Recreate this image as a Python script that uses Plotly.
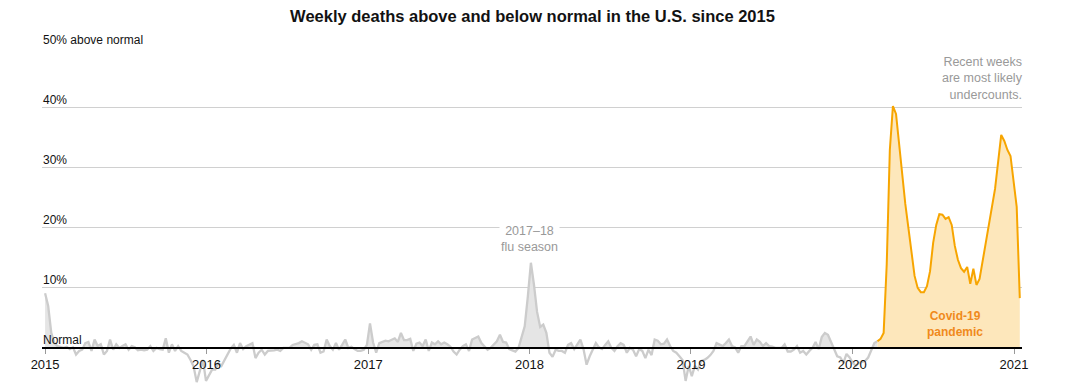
import pandas as pd
import plotly.graph_objects as go

# Weekly excess deaths (% above/below normal), weeks starting 2015-01-01
start_date = "2015-01-01"
gray_values = [
    9.1, 7.0, 2.5, 0.8, 0.3, 0.2, 0.0, 0.2, -0.2, 0.1,
    -1.1, -0.5, -0.3, 0.8, 1.0, -0.5, 1.4, 0.3, 0.6, -1.1,
    -0.5, 1.4, -0.3, 0.6, 0.0, 0.3, 0.6, -0.3, 0.3, 0.1,
    -0.4, -0.3, -0.4, -0.3, 0.3, -0.5, 0.0, -0.2, -0.3, 1.6,
    -0.8, 0.6, -0.5, 0.3, -0.5, -0.8, -1.1, -2.0, -3.1, -5.7,
    -3.6, -2.0, -5.5, -4.5, -3.6, -3.6, -2.5, -3.0, -2.0, -1.2,
    -0.1, 0.5, -0.8, 0.8, -0.2, 0.3, 0.6, 0.8, -1.7, -0.8,
    -0.3, -1.1, -0.5, -0.5, -0.4, -0.3, -0.5, 0.0, 0.0, 0.0,
    0.5, 0.6, 0.8, 1.1, 0.9, 0.6, -0.3, 0.5, 0.6, -0.8,
    -0.6, 1.4, 0.3, -0.3, 0.8, -0.3, 0.5, 1.4, 0.0, 0.2,
    -0.2, -0.5, -0.5, -0.3, 0.5, 4.1, 0.9, -0.8, 0.8, 1.0,
    1.2, 1.1, 1.3, 1.6, 1.0, 2.5, 1.3, 1.3, 1.5, -0.5,
    0.7, 0.9, 0.3, 1.4, -0.5, 0.9, 0.6, 1.1, 0.6, 0.9,
    0.6, 0.2, -0.6, -1.1, -0.3, 0.3, 0.6, -0.5, 1.4, 1.7,
    1.9, 0.8, 0.3, -0.3, 0.0, 0.5, 1.1, 2.2, 1.0, 0.9,
    -0.2, -0.4, -0.6, 0.0, 2.0, 3.6, 8.5, 14.2, 10.5, 6.0,
    3.5, 3.9, 2.5, -0.8, -1.5, -0.3, -0.5, -0.5, -0.8, 0.5,
    0.8, -0.2, 0.6, 1.4, -0.2, -2.8, -1.4, -0.2, 0.8, 0.1,
    -0.2, 0.5, 1.1, 0.0, -0.5, 0.3, 0.8, 0.5, -0.8, 0.0,
    -0.3, -1.4, -0.2, -0.5, -1.7, -0.3, -1.2, 1.4, 1.2, 0.6,
    0.7, 1.4, 0.3, -0.5, -0.8, -1.4, -2.0, -5.5, -3.0, -4.7,
    -3.0, -3.6, -2.2, -2.0, -1.7, -1.2, -0.5, 0.8, 0.6, 0.3,
    0.8, 1.4, 0.3, 0.1, -0.8, 0.3, 0.3, 1.1, 1.9, 0.5,
    1.4, 1.0, 0.3, 0.8, 0.3, 0.2, 0.0, 0.0, 0.0, 0.6,
    -0.6, -0.6, -0.3, 0.3, -0.8, -0.5, -1.1, -0.5, 0.0, 1.0,
    -0.2, 1.8, 2.5, 2.2, 1.0, -0.3, -1.4, -1.6, -2.5, -1.0,
    -1.6, -2.5, -3.0, -2.5, -2.3, -2.2, -1.6, -0.5, 0.8, 1.1,
]
covid_values = [
    1.1, 1.5, 2.5, 14.0, 33.0, 40.3, 39.0, 34.0, 28.0, 24.0,
    20.0, 15.5, 12.0, 10.0, 9.3, 9.3, 10.3, 12.8, 17.5, 20.5,
    22.3, 22.2, 21.5, 21.8, 20.5, 17.0, 14.7, 13.3, 12.7, 13.5,
    10.7, 13.2, 10.5, 11.5, 14.5, 17.5, 21.0, 24.0, 26.5, 31.0,
    35.5, 34.5, 33.0, 32.0, 28.0, 23.5, 8.3,
]
year_ticks = ["2015", "2016", "2017", "2018", "2019", "2020", "2021"]
y_grid = [10, 20, 30, 40, 50]
y_labels = ["10%", "20%", "30%", "40%", "50% above normal"]

gray_dates = pd.date_range(start_date, periods=len(gray_values), freq="7D")
covid_dates = pd.date_range(gray_dates[-1], periods=len(covid_values), freq="7D")
gray_pos = [max(v, 0) for v in gray_values]

FONT = "Liberation Sans Narrow, Liberation Sans, Arial, sans-serif"
BODY = "Liberation Sans, Arial, sans-serif"

fig = go.Figure()
fig.add_trace(go.Scatter(x=gray_dates, y=gray_pos, mode="lines", line=dict(width=0),
                         fill="tozeroy", fillcolor="#e5e5e5", hoverinfo="skip"))
fig.add_trace(go.Scatter(x=gray_dates, y=gray_values, mode="lines",
                         line=dict(color="#cccccc", width=2.3)))
fig.add_trace(go.Scatter(x=covid_dates, y=covid_values, mode="lines",
                         line=dict(color="#f7a500", width=2),
                         fill="tozeroy", fillcolor="#fde7bb"))

fig.update_layout(
    width=1049, height=375,
    margin=dict(l=34, r=35, t=40, b=0),
    paper_bgcolor="white", plot_bgcolor="white",
    showlegend=False,
    title=dict(text="<b>Weekly deaths above and below normal in the U.S. since 2015</b>",
               x=0.5, xanchor="center", y=1 - 8 / 375, yanchor="middle",
               font=dict(family=FONT, size=16.5, color="#121212")),
)
fig.update_xaxes(
    type="date",
    range=["2014-12-25", "2021-01-19"],
    tickvals=[f"{y}-01-01" for y in year_ticks], ticktext=year_ticks,
    tickfont=dict(family=BODY, size=13, color="#121212"),
    ticks="outside", ticklen=5, tickcolor="#999999",
    showgrid=False, zeroline=False,
    showline=True, linecolor="#000000", linewidth=1.5,
    anchor="free", position=(5.85) / 55.85,
)
fig.update_yaxes(
    range=[-5.85, 50],
    tickvals=y_grid, showticklabels=False,
    showgrid=True, gridcolor="#d0d0d0", gridwidth=1,
    zeroline=False,
)

for v, t in zip(y_grid, y_labels):
    fig.add_annotation(x=0, xref="paper", y=v, yref="y", text=t, showarrow=False,
                       xanchor="left", yanchor="bottom", xshift=-1, yshift=-1,
                       font=dict(family=BODY, size=12, color="#121212"))
fig.add_annotation(x=0, xref="paper", y=0, yref="y", text="Normal", showarrow=False,
                   xanchor="left", yanchor="bottom", xshift=-1, yshift=-1,
                   font=dict(family=BODY, size=12, color="#121212"))

fig.add_annotation(x=1, xref="paper", y=48, yref="y", text="Recent weeks<br>are most likely<br>undercounts.",
                   showarrow=False, xanchor="right", yanchor="top", align="right",
                   xshift=3, yshift=7,
                   font=dict(family=BODY, size=12.5, color="#999999"))
fig.add_annotation(x="2018-01-01", xref="x", y=18.2, yref="y", text="2017–18<br>flu season",
                   showarrow=False, xanchor="center", yanchor="middle", align="center",
                   bgcolor="white",
                   font=dict(family=BODY, size=12.5, color="#999999"))
fig.add_annotation(x="2020-08-20", xref="x", y=4, yref="y", text="<b>Covid-19<br>pandemic</b>",
                   showarrow=False, xanchor="center", yanchor="middle", align="center",
                   font=dict(family=BODY, size=12, color="#f08a1c"))

fig.write_html("out.html")
